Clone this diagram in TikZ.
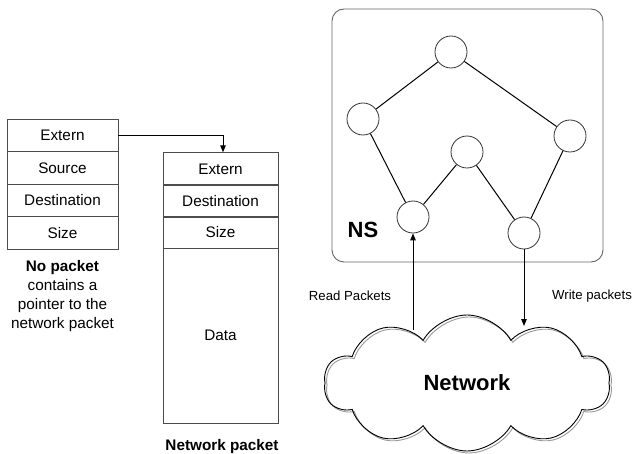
\documentclass[tikz,border=0pt]{standalone}
\usepackage{fontspec}
\setmainfont{Liberation Sans}
\usetikzlibrary{arrows.meta,shapes.symbols}
\begin{document}
\begin{tikzpicture}[x=1pt,y=-1pt,
  cell/.style={draw=black!70,line width=0.9pt,minimum height=32.5pt,inner sep=0pt,font=\fontsize{15.3}{18}\selectfont},
  lcell/.style={cell,minimum width=111pt},
  mcell/.style={cell,minimum width=115pt},
  vert/.style={draw=black!80,circle,minimum size=32pt,inner sep=0pt,line width=0.8pt},
  lnk/.style={line width=1pt},
  conn/.style={line width=1pt,-{Triangle[length=7pt,width=5.5pt]}},
  captxt/.style={align=center,font=\fontsize{15.3}{19}\selectfont},
  smalltxt/.style={font=\fontsize{13.2}{16}\selectfont},
  cloudsty/.style={cloud,cloud puffs=10,cloud puff arc=120,aspect=2.1,line width=0.9pt,minimum width=286pt,minimum height=136pt}]
\useasboundingbox (0,0) rectangle (634,454);
% left column
\node[lcell] (l1) at (62.5,135.5) {Extern};
\node[lcell] (l2) at (62.5,168) {Source};
\node[lcell] (l3) at (62.5,200.5) {Destination};
\node[lcell] (l4) at (62.5,233) {Size};
\node[captxt,anchor=north] (lcap) at (62.5,257) {\textbf{No packet}\\contains a\\pointer to the\\network packet};
% middle column
\node[mcell] (m1) at (220.5,169) {Extern};
\node[mcell] (m2) at (220.5,201) {Destination};
\node[mcell] (m3) at (220.5,232.5) {Size};
\node[mcell,minimum height=175pt] (m4) at (220.5,335.5) {Data};
\node[captxt,font=\fontsize{15.3}{19}\selectfont\bfseries] (mcap) at (222,447) {Network packet};
\coordinate (bend) at (223,135.5);
\draw[conn] (l1.east) -- (bend) -- (bend |- m1.north);
% NS box
\node[draw=black!60,line width=0.9pt,rounded corners=12pt,minimum width=271pt,minimum height=253pt] (ns) at (467.5,135.5) {};
\node[font=\fontsize{22}{26}\selectfont\bfseries] (nslbl) at (363,230) {NS};
\node[vert] (t) at (451,52) {};
\node[vert] (a) at (363,119) {};
\node[vert] (b) at (570,136) {};
\node[vert] (c) at (467,152) {};
\node[vert] (d) at (413,217) {};
\node[vert] (e) at (524,233) {};
\draw[lnk] (t) -- (a);
\draw[lnk] (t) -- (b);
\draw[lnk] (a) -- (d);
\draw[lnk] (d) -- (c);
\draw[lnk] (c) -- (e);
\draw[lnk] (e) -- (b);
% cloud
\node[cloudsty,draw=black!40] (cloudsh) at (469,385) {};
\node[cloudsty,draw=black,font=\fontsize{22}{26}\selectfont\bfseries] (net) at (467,383) {Network};
\coordinate (rin) at (413,330);
\coordinate (win) at (524,326);
\draw[conn] (rin) -- (d);
\draw[conn] (e) -- (win);
\node[smalltxt] (rlbl) at (350,296) {Read Packets};
\node[smalltxt] (wlbl) at (592,296) {Write packets};
\end{tikzpicture}
\end{document}
